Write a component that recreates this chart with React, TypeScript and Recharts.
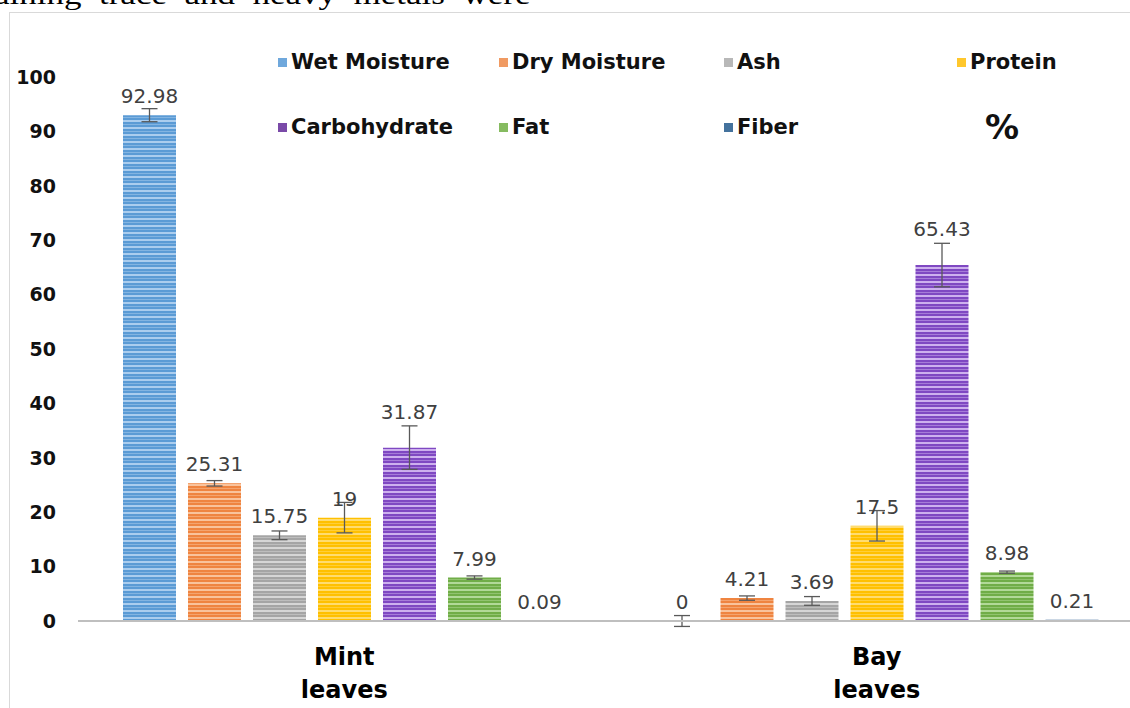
import { BarChart, Bar, XAxis, YAxis, ErrorBar, LabelList, Legend } from "recharts";

// categories and series
const categories = ["Mint leaves", "Bay leaves"];
const seriesNames = ["Wet Moisture", "Dry Moisture", "Ash", "Protein", "Carbohydrate", "Fat", "Fiber"];

// values (%)
const mintValues = [92.98, 25.31, 15.75, 19, 31.87, 7.99, 0.09];
const bayValues = [0, 4.21, 3.69, 17.5, 65.43, 8.98, 0.21];

// error bar half-lengths (estimated)
const mintErrors = [1.2, 0.5, 0.8, 2.8, 4, 0.3, 0];
const bayErrors = [1, 0.4, 0.8, 2.8, 4, 0.2, 0];

const yTicks = [0, 10, 20, 30, 40, 50, 60, 70, 80, 90, 100];

// look of each series: base colour, stripe colour, label offset
const SERIES_STYLE = [
  { color: "#5b9bd5", light: "#abcdee", legend: "#6fa8dc", labelOffset: 12 },
  { color: "#ef8440", light: "#f9c39c", legend: "#f09a62", labelOffset: 12 },
  { color: "#a5a5a5", light: "#d6d6d6", legend: "#b8b8b8", labelOffset: 12 },
  { color: "#ffc000", light: "#ffdc70", legend: "#ffc72c", labelOffset: 12 },
  { color: "#7f48c2", light: "#cdb0ee", legend: "#7a4aa8", labelOffset: 29 },
  { color: "#70ad47", light: "#b2d998", legend: "#86bb60", labelOffset: 12 },
  { color: "#2e6093", light: "#6c93bd", legend: "#44729d", labelOffset: 12 },
];

const LEGEND_COLS = [278, 499, 724, 957];
const LEGEND_ROWS = [62, 127];

const chartData = categories.map((name, i) => {
  const vals = i === 0 ? mintValues : bayValues;
  const errs = i === 0 ? mintErrors : bayErrors;
  const row: Record<string, string | number> = { name };
  seriesNames.forEach((_, j) => {
    row[`s${j}`] = vals[j];
    row[`e${j}`] = errs[j];
  });
  return row;
});

const CategoryTick = ({ x, y, payload }: any) => {
  const words = String(payload.value).split(" ");
  return (
    <text
      x={x}
      y={y}
      textAnchor="middle"
      fontFamily="DejaVu Sans"
      fontWeight="bold"
      fontSize={24}
      fill="#000"
    >
      {words.map((w, i) => (
        <tspan key={i} x={x} dy={i === 0 ? 36 : 33}>
          {w}
        </tspan>
      ))}
    </text>
  );
};

const renderLegend = () => (
  <div style={{ position: "relative", width: 1130, height: 160 }}>
    {seriesNames.map((name, i) => {
      const left = LEGEND_COLS[i % 4];
      const top = LEGEND_ROWS[Math.floor(i / 4)];
      return (
        <div
          key={name}
          style={{
            position: "absolute",
            left,
            top: top - 14,
            height: 28,
            display: "flex",
            alignItems: "center",
            whiteSpace: "nowrap",
          }}
        >
          <span
            style={{
              display: "inline-block",
              width: 9,
              height: 9,
              background: SERIES_STYLE[i].legend,
              marginRight: 4,
            }}
          />
          <span
            style={{
              fontFamily: "DejaVu Sans",
              fontWeight: "bold",
              fontSize: 21,
              color: "#111",
            }}
          >
            {name}
          </span>
        </div>
      );
    })}
    <div
      style={{
        position: "absolute",
        left: 985,
        top: 127 - 22,
        height: 44,
        lineHeight: "44px",
        fontFamily: "DejaVu Sans",
        fontWeight: "bold",
        fontSize: 34,
        color: "#111",
      }}
    >
      %
    </div>
  </div>
);

export default function App() {
  return (
    <div
      style={{
        position: "fixed",
        left: 0,
        top: 0,
        width: 1130,
        height: 708,
        overflow: "hidden",
        background: "#fff",
      }}
    >
      {/* striped fills */}
      <svg width={0} height={0} style={{ position: "absolute" }}>
        <defs>
          {SERIES_STYLE.map((s, i) => (
            <pattern
              key={i}
              id={`stripe${i}`}
              patternUnits="userSpaceOnUse"
              width={10}
              height={7}
            >
              <rect x={0} y={0} width={10} height={7} fill={s.color} />
              <rect x={0} y={1} width={10} height={2} fill={s.light} />
              <rect x={0} y={5} width={10} height={1} fill={s.light} opacity={0.5} />
            </pattern>
          ))}
        </defs>
      </svg>

      {/* paper text cut off at the top */}
      <div
        style={{
          position: "absolute",
          left: -6,
          top: -21,
          fontFamily: "Liberation Serif",
          fontSize: 28,
          lineHeight: "32px",
          wordSpacing: 7,
          whiteSpace: "nowrap",
          transform: "scaleX(1.25)",
          transformOrigin: "left top",
          color: "#000",
        }}
      >
        aining trace and heavy metals were
      </div>

      {/* chart frame */}
      <div
        style={{
          position: "absolute",
          left: 9,
          top: 12,
          width: 1200,
          height: 800,
          borderTop: "1.5px solid #d9d9d9",
          borderLeft: "1.5px solid #d9d9d9",
        }}
      />

      <div style={{ position: "absolute", left: 0, top: 0 }}>
        <BarChart
          width={1160}
          height={708}
          data={chartData}
          margin={{ top: 77, right: 17, bottom: 0, left: 0 }}
          barSize={53}
          barGap={12}
        >
          <XAxis
            dataKey="name"
            height={87}
            axisLine={{ stroke: "#bfbfbf", strokeWidth: 2 }}
            tickLine={false}
            tick={<CategoryTick />}
            interval={0}
          />
          <YAxis
            width={78}
            domain={[0, 100]}
            ticks={yTicks}
            allowDataOverflow
            axisLine={false}
            tickLine={false}
            tickSize={0}
            tickMargin={22}
            tick={{
              fontFamily: "DejaVu Sans",
              fontWeight: "bold",
              fontSize: 19,
              fill: "#111",
            }}
          />
          <Legend
            layout="horizontal"
            verticalAlign="middle"
            align="center"
            content={renderLegend}
            wrapperStyle={{ position: "absolute", left: 0, top: 0, width: 1130, height: 160 }}
          />
          {seriesNames.map((name, i) => (
            <Bar
              key={name}
              dataKey={`s${i}`}
              name={name}
              fill={`url(#stripe${i})`}
              minPointSize={0.01}
              isAnimationActive={false}
            >
              <ErrorBar
                dataKey={`e${i}`}
                direction="y"
                width={8}
                stroke="#595959"
                strokeWidth={1.3}
              />
              <LabelList
                dataKey={`s${i}`}
                position="top"
                offset={SERIES_STYLE[i].labelOffset}
                formatter={(v: any) => String(v)}
                style={{
                  fontFamily: "DejaVu Sans",
                  fontSize: 20,
                  fill: "#404040",
                }}
              />
            </Bar>
          ))}
        </BarChart>
      </div>
    </div>
  );
}
